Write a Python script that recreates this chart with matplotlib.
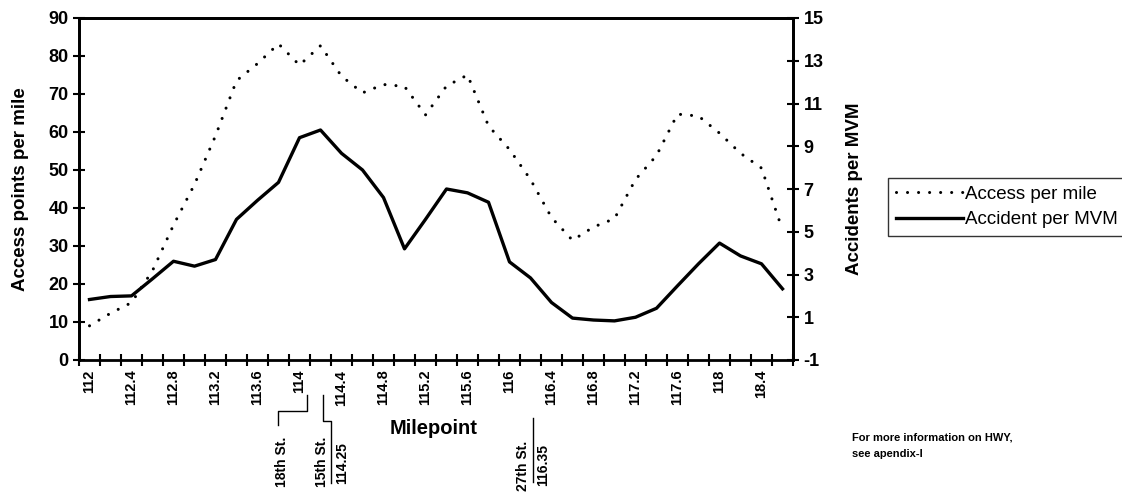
import matplotlib
matplotlib.use("Agg")
import matplotlib.pyplot as plt
import numpy as np

plt.rcParams['font.family'] = ['Liberation Sans', 'DejaVu Sans']
plt.rcParams['axes.unicode_minus'] = False

# ---------------- data ----------------
milepoints = [112.0, 112.2, 112.4, 112.6, 112.8, 113.0, 113.2, 113.4, 113.6, 113.8,
              114.0, 114.2, 114.4, 114.6, 114.8, 115.0, 115.2, 115.4, 115.6, 115.8,
              116.0, 116.2, 116.4, 116.6, 116.8, 117.0, 117.2, 117.4, 117.6, 117.8,
              118.0, 118.2, 118.4, 118.6]
access_per_mile = [9.0, 12.3, 15.1, 23.5, 35.5, 46.2, 59.0, 73.5, 78.0, 83.2,
                   77.6, 82.7, 74.7, 70.3, 72.5, 72.0, 64.5, 72.1, 75.0, 61.6,
                   55.4, 47.5, 37.5, 31.5, 35.0, 37.2, 47.5, 53.8, 64.7, 64.2,
                   59.7, 54.4, 50.5, 34.2]
accident_per_mvm = [1.83, 1.97, 2.00, 2.80, 3.62, 3.39, 3.70, 5.58, 6.47, 7.31,
                    9.40, 9.76, 8.67, 7.89, 6.60, 4.20, 5.58, 7.00, 6.82, 6.38,
                    3.59, 2.84, 1.69, 0.96, 0.87, 0.83, 1.00, 1.42, 2.47, 3.50,
                    4.47, 3.87, 3.50, 2.33]
xtick_labels = ["112", "112.4", "112.8", "113.2", "113.6", "114", "114.4", "114.8",
                "115.2", "115.6", "116", "116.4", "116.8", "117.2", "117.6", "118", "18.4"]
left_ticks = [0, 10, 20, 30, 40, 50, 60, 70, 80, 90]
right_ticks = [-1, 1, 3, 5, 7, 9, 11, 13, 15]

W, H = 1122, 495
fig = plt.figure(figsize=(W / 100, H / 100), dpi=100)

def fx(px):
    return px / W

def fy(py):
    return 1 - py / H

ax = fig.add_axes([fx(79), fy(360), fx(793) - fx(79), fy(18) - fy(360)])
ax2 = ax.twinx()

x = np.arange(len(milepoints))
l1, = ax.plot(x, access_per_mile, color='black', lw=2.2, linestyle=(0, (0.01, 3.6)),
              dash_capstyle='round', label='Access per mile')
l2, = ax2.plot(x, accident_per_mvm, color='black', lw=2.4, label='Accident per MVM',
               solid_joinstyle='round')

ax.set_xlim(-0.5, len(milepoints) - 0.5)
ax.set_ylim(0, 90)
ax2.set_ylim(-1, 15)

ax.set_yticks(left_ticks)
ax2.set_yticks(right_ticks)
ax.set_xticks(x[::2])
ax.set_xticklabels(xtick_labels, rotation=90, fontsize=10.5, fontweight='bold')
ax.set_xticks(np.arange(len(milepoints) + 1) - 0.5, minor=True)

for a in (ax, ax2):
    for s in a.spines.values():
        s.set_linewidth(2.0)
ax2.spines['bottom'].set_visible(False)

ax.tick_params(axis='x', which='major', length=0, pad=7)
ax.tick_params(axis='x', which='minor', direction='inout', length=8, width=1.5)
ax.tick_params(axis='y', direction='inout', length=9, width=1.5, labelsize=13, pad=3)
ax2.tick_params(axis='y', direction='inout', length=9, width=1.5, labelsize=13, pad=3)
for lab in ax.get_yticklabels() + ax2.get_yticklabels():
    lab.set_fontweight('bold')

ax.set_ylabel('Access points per mile', fontsize=13.5, fontweight='bold', labelpad=14)
ax2.set_ylabel('Accidents per MVM', fontsize=13.5, fontweight='bold', labelpad=16)

fig.text(fx(434), fy(429), 'Milepoint', fontsize=14.5, fontweight='bold',
         ha='center', va='center')

# street annotations (drawn in figure pixel space)
def line(xs, ys, **kw):
    fig.add_artist(plt.Line2D([fx(v) for v in xs], [fy(v) for v in ys],
                              color='black', lw=1.0, transform=fig.transFigure, **kw))

line([307, 307, 278, 278], [395, 411, 411, 425])
line([323, 323, 331, 331], [395, 421, 421, 483])
line([533, 533], [418, 482])

ann_kw = dict(rotation=90, fontsize=10, fontweight='bold', ha='center', va='center')
fig.text(fx(282), fy(462), '18th St.', **ann_kw)
fig.text(fx(322), fy(462), '15th St.', **ann_kw)
fig.text(fx(342), fy(463), '114.25', **ann_kw)
fig.text(fx(523), fy(466), '27th St.', **ann_kw)
fig.text(fx(543), fy(465), '116.35', **ann_kw)

fig.text(fx(852), fy(446), 'For more information on HWY,\nsee apendix-I', fontsize=8,
         fontweight='bold', ha='left', va='center', linespacing=1.75)

leg = fig.legend(handles=[l1, l2], loc='upper left',
                 bbox_to_anchor=(fx(888), fy(178)), bbox_transform=fig.transFigure,
                 fontsize=13.5, frameon=True, fancybox=False, edgecolor='black',
                 handlelength=3.6, handletextpad=0.1, borderpad=0.4,
                 labelspacing=0.45, borderaxespad=0)
leg.get_frame().set_linewidth(1.0)

fig.savefig('out.png', dpi=100)
